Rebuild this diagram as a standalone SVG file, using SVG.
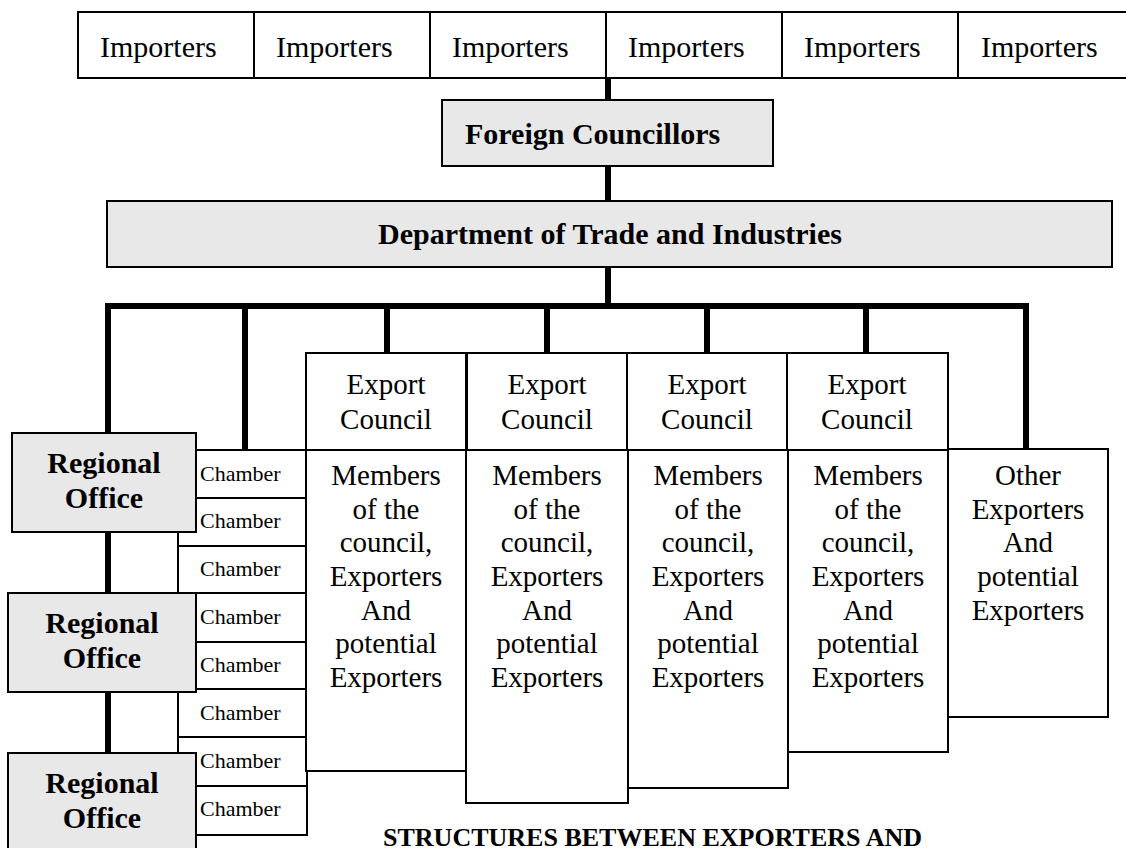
<svg xmlns="http://www.w3.org/2000/svg" width="1126" height="848" viewBox="0 0 1126 848">
<style>
text{font-family:"Liberation Serif","Times New Roman",serif;fill:#000}
.box{fill:#fff;stroke:#000;stroke-width:2}
.gray{fill:#e8e8e8;stroke:#000;stroke-width:2}
.t30{font-size:30px}
.t29{font-size:29px;text-anchor:middle}
.b30{font-size:30px;font-weight:bold}
.bc{font-size:30px;font-weight:bold;text-anchor:middle}
.ch{font-size:22px}
.conn{fill:none;stroke:#000;stroke-width:6;stroke-linejoin:miter}
</style>
<rect width="1126" height="848" fill="#fff"/>
<g id="connectors">
<path class="conn" d="M608 78V100M608 166V201M608 267V306M108 433V306H1026V449M245 306V450M387 306V353M547 306V353M707 306V353M866 306V353M108 532V593M108 692V753"/>
</g>
<g id="importers">
<rect class="box" x="78" y="12" width="176" height="66"/><text class="t30" x="100" y="57">Importers</text>
<rect class="box" x="254" y="12" width="176" height="66"/><text class="t30" x="276" y="57">Importers</text>
<rect class="box" x="430" y="12" width="176" height="66"/><text class="t30" x="452" y="57">Importers</text>
<rect class="box" x="606" y="12" width="176" height="66"/><text class="t30" x="628" y="57">Importers</text>
<rect class="box" x="782" y="12" width="176" height="66"/><text class="t30" x="804" y="57">Importers</text>
<rect class="box" x="958" y="12" width="180" height="66"/><text class="t30" x="981" y="57">Importers</text>
</g>
<g id="foreign-councillors">
<rect class="gray" x="442" y="100" width="331" height="66"/>
<text class="b30" x="465" y="144">Foreign Councillors</text>
</g>
<g id="dti">
<rect class="gray" x="107" y="201" width="1005" height="66"/>
<text class="bc" x="610" y="244">Department of Trade and Industries</text>
</g>
<g id="chambers">
<rect class="box" x="178" y="450" width="128" height="48"/><text class="ch" x="200" y="481">Chamber</text>
<rect class="box" x="178" y="498" width="128" height="48"/><text class="ch" x="200" y="528">Chamber</text>
<rect class="box" x="178" y="546" width="128" height="47"/><text class="ch" x="200" y="576">Chamber</text>
<rect class="box" x="178" y="593" width="128" height="49"/><text class="ch" x="200" y="624">Chamber</text>
<rect class="box" x="178" y="642" width="128" height="47"/><text class="ch" x="200" y="672">Chamber</text>
<rect class="box" x="178" y="689" width="128" height="48"/><text class="ch" x="200" y="720">Chamber</text>
<rect class="box" x="178" y="737" width="129" height="49"/><text class="ch" x="200" y="768">Chamber</text>
<rect class="box" x="178" y="786" width="129" height="49"/><text class="ch" x="200" y="816">Chamber</text>
</g>
<g id="regional-office-1">
<rect class="gray" x="12" y="433" width="184" height="99"/>
<text class="bc" x="104" y="473">Regional</text><text class="bc" x="104" y="508">Office</text>
</g>
<g id="regional-office-2">
<rect class="gray" x="8" y="593" width="188" height="99"/>
<text class="bc" x="102" y="633">Regional</text><text class="bc" x="102" y="668">Office</text>
</g>
<g id="regional-office-3">
<rect class="gray" x="8" y="753" width="188" height="110"/>
<text class="bc" x="102" y="793">Regional</text><text class="bc" x="102" y="828">Office</text>
</g>
<g id="export-council-1">
<rect class="box" x="306" y="353" width="160" height="97"/>
<text class="t29" x="386" y="394">Export</text><text class="t29" x="386" y="429">Council</text>
<rect class="box" x="306" y="450" width="160" height="321"/>
<text class="t29" x="386"><tspan x="386" y="485">Members</tspan><tspan x="386" y="519">of the</tspan><tspan x="386" y="552">council,</tspan><tspan x="386" y="586">Exporters</tspan><tspan x="386" y="620">And</tspan><tspan x="386" y="653">potential</tspan><tspan x="386" y="687">Exporters</tspan></text>
</g>
<g id="export-council-2">
<rect class="box" x="467" y="353" width="160" height="97"/>
<text class="t29" x="547" y="394">Export</text><text class="t29" x="547" y="429">Council</text>
<rect class="box" x="466" y="450" width="162" height="353"/>
<text class="t29" x="547"><tspan x="547" y="485">Members</tspan><tspan x="547" y="519">of the</tspan><tspan x="547" y="552">council,</tspan><tspan x="547" y="586">Exporters</tspan><tspan x="547" y="620">And</tspan><tspan x="547" y="653">potential</tspan><tspan x="547" y="687">Exporters</tspan></text>
</g>
<g id="export-council-3">
<rect class="box" x="627" y="353" width="160" height="97"/>
<text class="t29" x="707" y="394">Export</text><text class="t29" x="707" y="429">Council</text>
<rect class="box" x="628" y="450" width="160" height="338"/>
<text class="t29" x="708"><tspan x="708" y="485">Members</tspan><tspan x="708" y="519">of the</tspan><tspan x="708" y="552">council,</tspan><tspan x="708" y="586">Exporters</tspan><tspan x="708" y="620">And</tspan><tspan x="708" y="653">potential</tspan><tspan x="708" y="687">Exporters</tspan></text>
</g>
<g id="export-council-4">
<rect class="box" x="787" y="353" width="161" height="97"/>
<text class="t29" x="867" y="394">Export</text><text class="t29" x="867" y="429">Council</text>
<rect class="box" x="788" y="450" width="160" height="302"/>
<text class="t29" x="868"><tspan x="868" y="485">Members</tspan><tspan x="868" y="519">of the</tspan><tspan x="868" y="552">council,</tspan><tspan x="868" y="586">Exporters</tspan><tspan x="868" y="620">And</tspan><tspan x="868" y="653">potential</tspan><tspan x="868" y="687">Exporters</tspan></text>
</g>
<g id="other-exporters">
<rect class="box" x="948" y="449" width="160" height="268"/>
<text class="t29" x="1028"><tspan x="1028" y="485">Other</tspan><tspan x="1028" y="519">Exporters</tspan><tspan x="1028" y="552">And</tspan><tspan x="1028" y="586">potential</tspan><tspan x="1028" y="620">Exporters</tspan></text>
</g>
<g id="title">
<text x="383" y="846" font-size="26" font-weight="bold" textLength="539" lengthAdjust="spacingAndGlyphs">STRUCTURES BETWEEN EXPORTERS AND</text>
</g>
</svg>
